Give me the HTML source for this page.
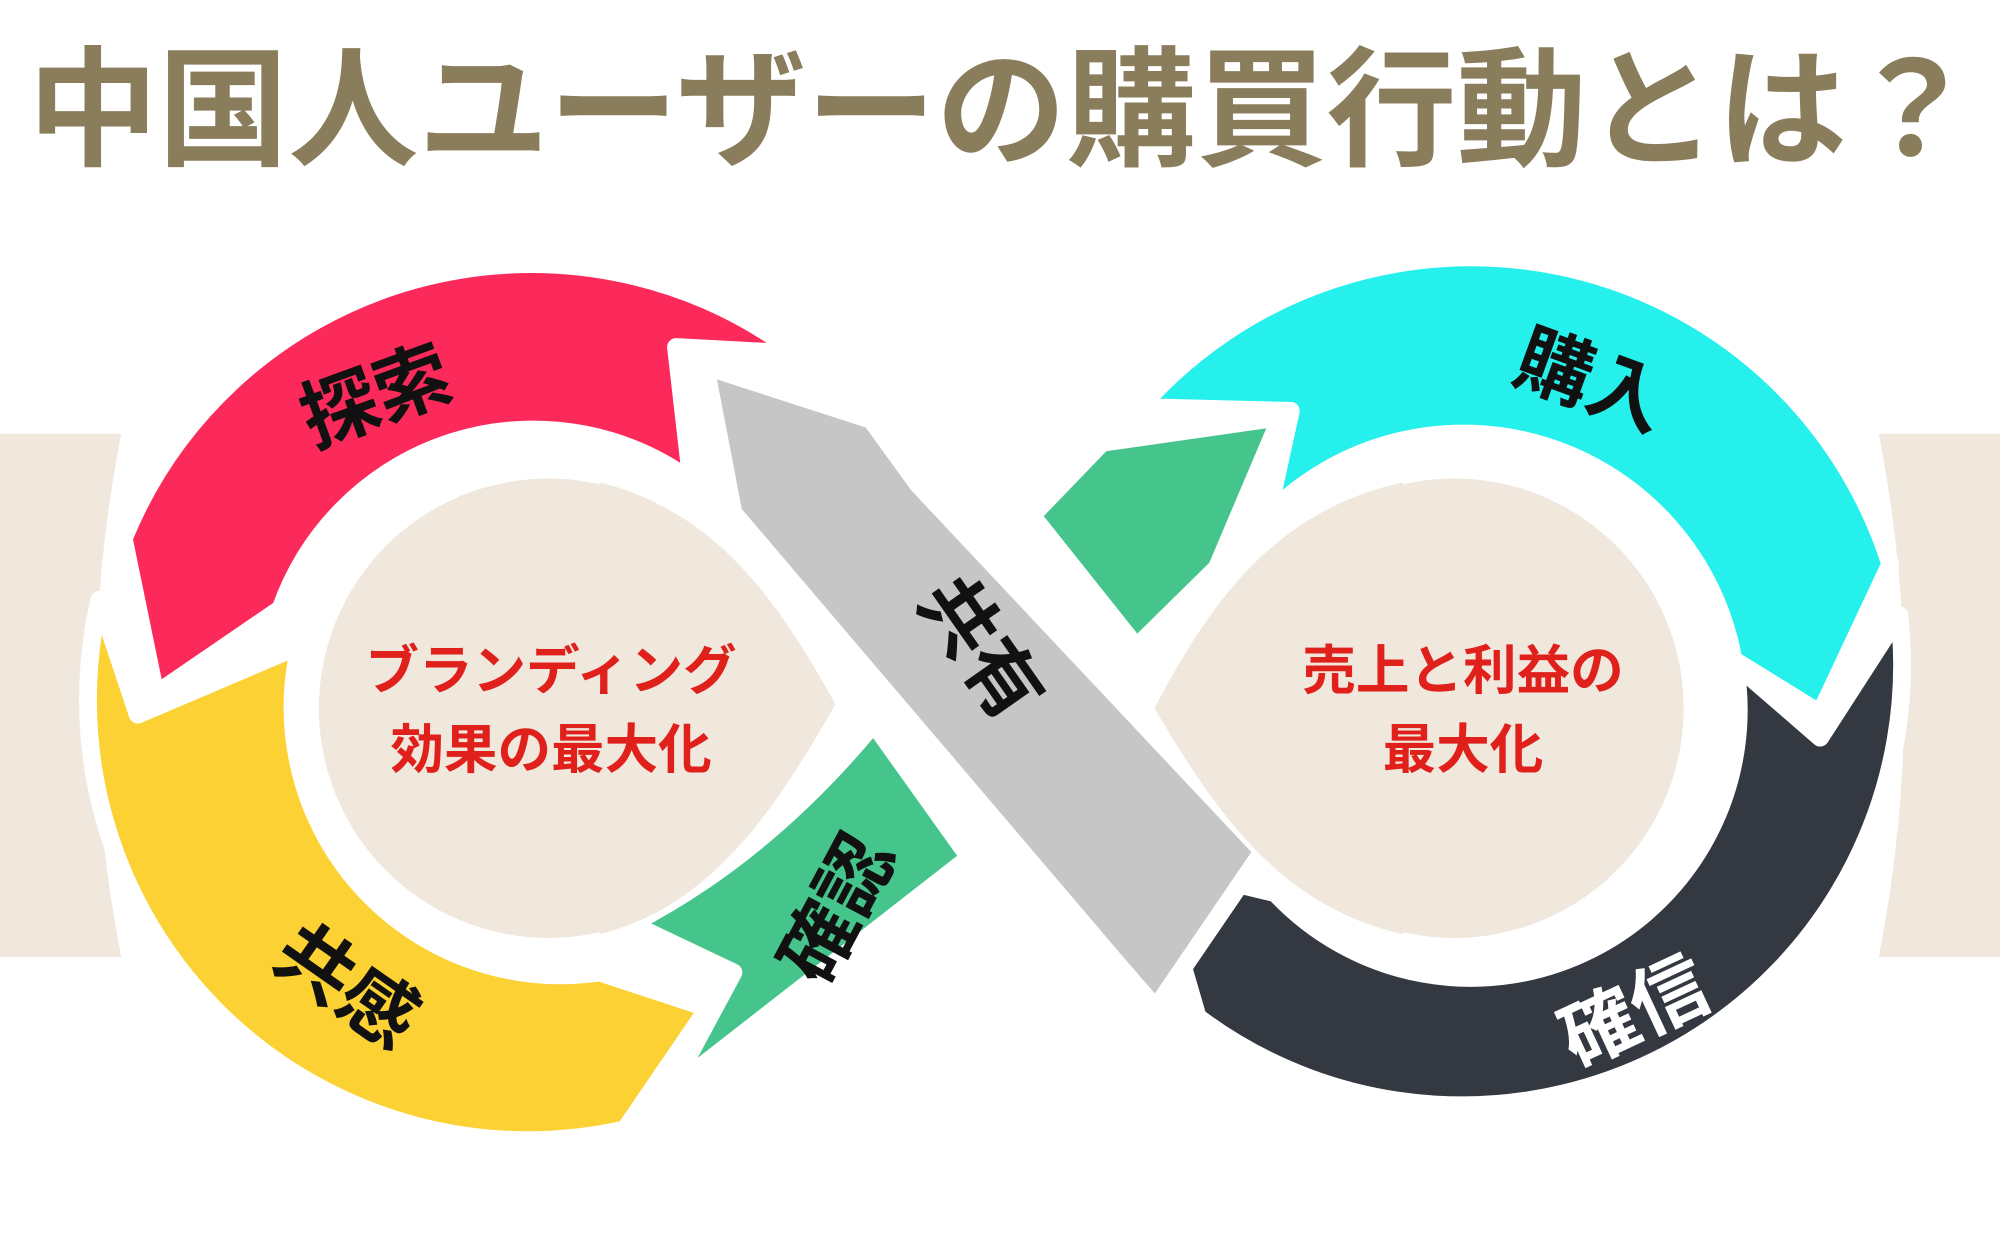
<!DOCTYPE html>
<html><head><meta charset="utf-8"><style>
html,body{margin:0;padding:0;background:#fff;}
svg{display:block;}
text{font-family:"Liberation Sans","Noto Sans CJK JP",sans-serif;font-weight:700;}
</style></head><body>
<svg width="2000" height="1234" viewBox="0 0 1568 967" preserveAspectRatio="none" xmlns="http://www.w3.org/2000/svg">
<rect width="1568" height="967" fill="#fff"/>
<text x="22" y="122" font-size="102" fill="#8a7d5b" textLength="1528" lengthAdjust="spacingAndGlyphs">中国人ユーザーの購買行動とは？</text>
<path d="M0,340 L95,340 Q55,545 95,750 L0,750 Z" fill="#f0e7dd"/>
<path d="M1568,340 L1473,340 Q1513,545 1473,750 L1568,750 Z" fill="#f0e7dd"/>
<g stroke="#fff" stroke-width="14" stroke-linejoin="round">
<path d="M78,470 A345,345 0 0 0 490,885 L555,790 L470,762 A210,210 0 0 1 235,506 L108,560 Z" fill="#fcd134"/>
<path d="M97,422 A345,345 0 0 1 625,277 L530,272 L542,377 A210,210 0 0 0 220,477 L122,544 Z" fill="#fc2a5a"/>
<path d="M495,724 Q600,670 685,567 L760,672 L525,855 L575,762 Z" fill="#45c58b"/>
<path d="M894,319 A345,345 0 0 1 1482,442 L1427,559 L1359,517 A215,215 0 0 0 994,404 L1012,322 Z" fill="#25f0ec"/>
<path d="M1489,482 A345,345 0 0 1 939,797 L904,677 L1000,700 A210,210 0 0 0 1360,520 L1427,578 Z" fill="#333841"/>
<path d="M809,404 L864,347 L1004,327 L954,445 L891,507 Z" fill="#45c58b"/>
<path d="M553,287 L683,329 L720,380 L990,667 L906,790 L880,760 L575,402 Z" fill="#c6c6c6"/>
</g>
<g fill="#f0e7dd">
<circle cx="430" cy="555" r="180"/>
<path d="M655,552 C610,470 560,400 470,378 L470,732 C560,710 610,630 655,552 Z"/>
<circle cx="1140" cy="555" r="180"/>
<path d="M905,555 C950,470 1000,400 1100,378 L1100,732 C1000,710 950,630 905,555 Z"/>
</g>
<g font-size="60" fill="#111" text-anchor="middle" style="font-weight:500">
<text transform="translate(302,330) rotate(-20)">探索</text>
<text transform="translate(260,790) rotate(35)">共感</text>
<text transform="translate(675,722) rotate(-62)">確認</text>
<text transform="translate(752,520) rotate(55)">共有</text>
<text transform="translate(1240,318) rotate(20)">購入</text>
<text transform="translate(1290,812) rotate(-25)" fill="#fff">確信</text>
</g>
<g font-size="42" fill="#e0201a" text-anchor="middle">
<text x="432" y="540">ブランディング</text>
<text x="432" y="602">効果の最大化</text>
<text x="1147" y="540">売上と利益の</text>
<text x="1147" y="602">最大化</text>
</g>
</svg>
</body></html>
